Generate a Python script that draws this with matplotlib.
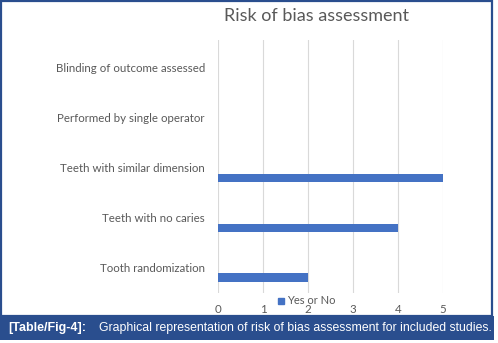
import matplotlib.pyplot as plt
from matplotlib.patches import Rectangle
from matplotlib.lines import Line2D

# data, bottom to top
categories = [
    "Tooth randomization",
    "Teeth with no caries",
    "Teeth with similar dimension",
    "Performed by single operator",
    "Blinding of outcome assessed",
]
yes_or_no = [2, 4, 5, 0, 0]
x_ticks = [0, 1, 2, 3, 4, 5]

W, H = 498, 343
blue = "#4472C4"
frame = "#2a4e8e"
grey_text = "#595959"

fig = plt.figure(figsize=(W / 100, H / 100), dpi=100)


def fx(px):
    return px / W


def fy(py):
    return 1 - py / H


# outer frame + caption band
fig.patches.append(Rectangle((fx(1), fy(316)), fx(491), fy(1) - fy(316),
                             transform=fig.transFigure, fill=False, edgecolor=frame, linewidth=1.6))
fig.patches.append(Rectangle((fx(0), fy(340)), fx(494), fy(316) - fy(340),
                             transform=fig.transFigure, facecolor=frame, edgecolor="none"))

ax = fig.add_axes([fx(218), fy(293), fx(443) - fx(218), fy(40) - fy(293)])
y = list(range(len(categories)))
ax.barh([v - 0.21 for v in y], yes_or_no, height=0.17, color=blue, zorder=3)

ax.set_xlim(0, 5)
ax.set_ylim(-0.52, 4.56)
ax.set_xticks(x_ticks)
ax.set_xticklabels([str(t) for t in x_ticks])
ax.set_yticks(y)
ax.set_yticklabels(categories)
ax.grid(axis="x", color="#d9d9d9", linewidth=0.8, zorder=0)
for s in ax.spines.values():
    s.set_visible(False)
ax.tick_params(axis="both", length=0, colors=grey_text, labelsize=8.3)
ax.tick_params(axis="y", pad=9.5)
ax.tick_params(axis="x", pad=8)
for lab in ax.get_xticklabels() + ax.get_yticklabels():
    lab.set_fontfamily("Lato")

fig.text(fx(316), fy(16), "Risk of bias assessment", ha="center", va="center",
         fontsize=13, color=grey_text, family="Lato")

handle = Line2D([], [], marker="s", linestyle="none", color=blue, markersize=5)
fig.legend([handle], ["Yes or No"], loc="center", bbox_to_anchor=(fx(306), fy(301)),
           frameon=False, prop={"family": "Lato", "size": 8},
           handletextpad=0.1, borderpad=0, handlelength=0.8, labelcolor=grey_text)

fig.text(fx(8), fy(328), "[Table/Fig-4]:", ha="left", va="center", color="white",
         fontsize=9, fontweight="bold", family="Liberation Sans")
fig.text(fx(99), fy(328), "Graphical representation of risk of bias assessment for included studies.",
         ha="left", va="center", color="white", fontsize=8.85, family="Liberation Sans")

fig.savefig("out.png", dpi=100)
